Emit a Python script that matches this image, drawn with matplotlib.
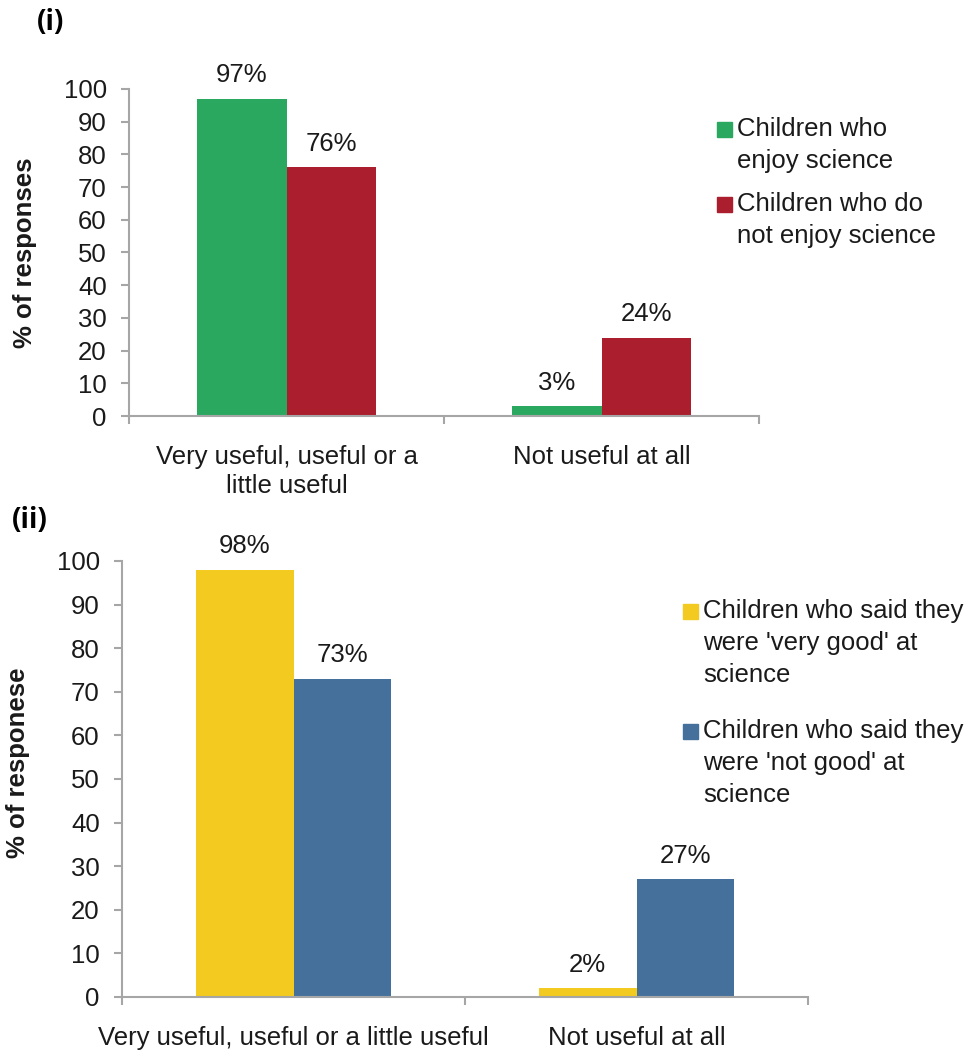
import numpy as np
import matplotlib
matplotlib.use("Agg")
import matplotlib.pyplot as plt
from matplotlib.patches import Rectangle

plt.rcParams['font.family'] = ['Liberation Sans', 'DejaVu Sans']

# chart (i)
cats_i = ["Very useful, useful or a\nlittle useful", "Not useful at all"]
enjoy = [97, 3]
not_enjoy = [76, 24]
labels_i = ["Children who\nenjoy science", "Children who do\nnot enjoy science"]

# chart (ii)
cats_ii = ["Very useful, useful or a little useful", "Not useful at all"]
very_good = [98, 2]
not_good = [73, 27]
labels_ii = ["Children who said they\nwere 'very good' at\nscience",
             "Children who said they\nwere 'not good' at\nscience"]

yticks = list(range(0, 101, 10))

green = '#2BA860'
red = '#AA1E2D'
yellow = '#F3CA1F'
blue = '#45709C'
gray = '#A6A6A6'
txt = '#1a1a1a'
fs = 18.5

W, H = 975, 1053
fig = plt.figure(figsize=(W / 100, H / 100), dpi=100)


def px_axes(l, r, t, b):
    return fig.add_axes([l / W, 1 - b / H, (r - l) / W, (b - t) / H])


def style(ax, cats, ylabel, lab_x, lab_y):
    ax.set_ylim(0, 100)
    ax.set_xlim(-0.5, 1.5)
    ax.set_yticks(yticks)
    ax.set_xticks(range(len(cats)))
    ax.set_xticklabels(cats, fontsize=fs, color=txt, linespacing=1.25)
    ax.set_xticks([-0.5, 0.5, 1.5], minor=True)
    for s in ['top', 'right']:
        ax.spines[s].set_visible(False)
    for s in ['left', 'bottom']:
        ax.spines[s].set_color(gray)
        ax.spines[s].set_linewidth(1.5)
    ax.tick_params(axis='y', direction='out', length=6, width=1.5, color=gray,
                   labelsize=fs, labelcolor=txt, pad=10)
    ax.tick_params(axis='x', which='major', length=0, pad=21)
    ax.tick_params(axis='x', which='minor', direction='out', length=6, width=1.5, color=gray)
    ax.set_ylabel(ylabel, fontsize=18.5, fontweight='bold', color=txt)
    ax.yaxis.set_label_coords(lab_x, lab_y)


def bars(ax, a, b, ca, cb):
    x = np.arange(len(a))
    w = 0.285
    r1 = ax.bar(x - w / 2, a, w, color=ca)
    r2 = ax.bar(x + w / 2, b, w, color=cb)
    for rects, vals in [(r1, a), (r2, b)]:
        for rect, v in zip(rects, vals):
            ax.annotate(f"{v}%", (rect.get_x() + rect.get_width() / 2, v),
                        xytext=(0, 12), textcoords='offset points',
                        ha='center', va='baseline', fontsize=fs, color=txt)


def legend(entries, x_sq, x_txt, tops, sq=15):
    for (label, color), top in zip(entries, tops):
        fig.patches.append(Rectangle((x_sq / W, 1 - (top + sq) / H), sq / W, sq / H,
                                     transform=fig.transFigure, color=color))
        fig.text(x_txt / W, 1 - (top - 5) / H, label, fontsize=fs, color=txt,
                 ha='left', va='top', linespacing=1.41)


ax1 = px_axes(129, 759, 89, 416)
bars(ax1, enjoy, not_enjoy, green, red)
style(ax1, cats_i, "% of responses", -0.146, 0.5)
legend(list(zip(labels_i, [green, red])), 717, 737, [122, 197])

ax2 = px_axes(122, 808, 561, 997)
bars(ax2, very_good, not_good, yellow, blue)
style(ax2, cats_ii, "% of responese", -0.134, 0.537)
legend(list(zip(labels_ii, [yellow, blue])), 683, 703, [604, 724])

fig.text(37 / W, 1 - 8 / H, "(i)", fontsize=20, fontweight='bold',
         family=['Open Sans', 'DejaVu Sans'], va='top', ha='left')
fig.text(12 / W, 1 - 506 / H, "(ii)", fontsize=20, fontweight='bold',
         family=['Open Sans', 'DejaVu Sans'], va='top', ha='left')

fig.savefig("out.png", dpi=100)
